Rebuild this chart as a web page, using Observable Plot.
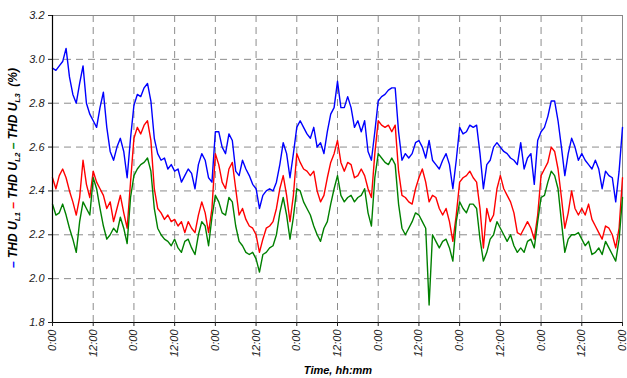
<!DOCTYPE html>
<html><head><meta charset="utf-8">
<script src="https://cdn.jsdelivr.net/npm/d3@7"></script>
<script src="https://cdn.jsdelivr.net/npm/@observablehq/plot@0.6"></script>
<style>
body{margin:0;background:#fff;}
svg{font-family:"Liberation Sans",Arial,sans-serif;}
</style></head>
<body><div id="chart"></div>
<script>
// hourly readings, 7 days (0..168 h)
const hours = d3.range(0, 169);
const thdL3Blue = [
2.96,2.95,2.97,2.99,3.05,2.92,2.84,2.80,2.89,2.97,2.80,2.75,2.72,2.69,2.78,2.85,2.69,2.58,2.54,2.60,2.64,2.58,2.46,2.64,
2.79,2.84,2.83,2.87,2.89,2.81,2.64,2.57,2.54,2.55,2.50,2.52,2.49,2.50,2.44,2.47,2.50,2.48,2.41,2.52,2.57,2.54,2.46,2.44,
2.67,2.67,2.60,2.57,2.66,2.63,2.49,2.47,2.54,2.50,2.47,2.43,2.41,2.32,2.38,2.40,2.41,2.40,2.44,2.52,2.62,2.57,2.46,2.57,
2.69,2.72,2.69,2.66,2.64,2.69,2.60,2.62,2.57,2.67,2.75,2.78,2.90,2.78,2.78,2.83,2.78,2.69,2.72,2.67,2.72,2.58,2.54,2.67,
2.81,2.83,2.84,2.86,2.87,2.87,2.67,2.54,2.57,2.55,2.57,2.62,2.63,2.60,2.55,2.63,2.54,2.52,2.50,2.54,2.57,2.52,2.41,2.54,
2.69,2.66,2.67,2.70,2.69,2.70,2.57,2.41,2.52,2.54,2.60,2.62,2.60,2.58,2.57,2.55,2.54,2.52,2.62,2.50,2.55,2.57,2.43,2.63,
2.67,2.69,2.74,2.81,2.81,2.72,2.60,2.47,2.57,2.64,2.60,2.54,2.57,2.54,2.52,2.50,2.54,2.50,2.41,2.49,2.47,2.46,2.35,2.49,
2.69];
const thdL1Red = [
2.46,2.41,2.47,2.50,2.46,2.40,2.35,2.29,2.37,2.54,2.43,2.37,2.49,2.44,2.41,2.38,2.32,2.35,2.26,2.32,2.38,2.30,2.23,2.44,
2.64,2.69,2.66,2.70,2.72,2.63,2.41,2.32,2.30,2.27,2.29,2.26,2.27,2.24,2.26,2.21,2.26,2.23,2.21,2.29,2.35,2.30,2.21,2.32,
2.57,2.52,2.44,2.41,2.50,2.53,2.41,2.29,2.32,2.27,2.24,2.23,2.20,2.12,2.18,2.23,2.24,2.26,2.32,2.41,2.47,2.38,2.26,2.38,
2.57,2.53,2.50,2.49,2.47,2.49,2.40,2.35,2.38,2.46,2.53,2.57,2.63,2.53,2.49,2.53,2.52,2.46,2.47,2.50,2.47,2.41,2.37,2.57,
2.72,2.70,2.69,2.70,2.67,2.70,2.49,2.38,2.37,2.35,2.34,2.41,2.46,2.50,2.44,2.35,2.38,2.37,2.32,2.29,2.32,2.26,2.17,2.29,
2.44,2.46,2.47,2.49,2.46,2.44,2.32,2.14,2.32,2.26,2.29,2.41,2.47,2.41,2.38,2.35,2.30,2.21,2.20,2.23,2.26,2.23,2.18,2.29,
2.47,2.50,2.53,2.60,2.58,2.50,2.37,2.23,2.30,2.40,2.32,2.29,2.32,2.29,2.34,2.27,2.24,2.21,2.18,2.24,2.23,2.20,2.14,2.23,
2.46];
const thdL2Green = [
2.34,2.29,2.30,2.34,2.29,2.23,2.18,2.12,2.26,2.35,2.32,2.29,2.46,2.41,2.32,2.24,2.18,2.20,2.23,2.21,2.28,2.23,2.16,2.37,
2.47,2.50,2.52,2.53,2.55,2.49,2.32,2.23,2.20,2.18,2.17,2.15,2.18,2.14,2.12,2.17,2.18,2.14,2.11,2.20,2.26,2.24,2.15,2.28,
2.38,2.35,2.30,2.29,2.37,2.35,2.24,2.17,2.15,2.12,2.11,2.12,2.09,2.03,2.11,2.12,2.14,2.15,2.20,2.30,2.37,2.29,2.18,2.28,
2.41,2.40,2.35,2.32,2.29,2.24,2.20,2.17,2.23,2.26,2.34,2.41,2.47,2.38,2.35,2.37,2.38,2.35,2.37,2.38,2.41,2.30,2.24,2.46,
2.57,2.55,2.53,2.52,2.55,2.52,2.34,2.23,2.20,2.23,2.26,2.30,2.29,2.26,2.23,1.88,2.20,2.17,2.14,2.17,2.18,2.14,2.08,2.26,
2.35,2.32,2.30,2.34,2.34,2.32,2.18,2.08,2.12,2.18,2.20,2.26,2.23,2.20,2.17,2.20,2.15,2.12,2.14,2.12,2.17,2.18,2.14,2.26,
2.37,2.38,2.44,2.49,2.47,2.41,2.26,2.12,2.18,2.20,2.20,2.21,2.18,2.15,2.17,2.11,2.12,2.14,2.11,2.17,2.14,2.11,2.08,2.18,
2.37];
const xTicks = d3.range(0, 169, 12);
const yTicks = [1.8, 2.0, 2.2, 2.4, 2.6, 2.8, 3.0, 3.2];
const series = [
  {name: "L3", values: thdL3Blue, color: "#0000ff"},
  {name: "L1", values: thdL1Red, color: "#ff0000"},
  {name: "L2", values: thdL2Green, color: "#008000"}
];
const rows = series.flatMap(s => hours.map((h, i) => ({h, v: s.values[i], s: s.name})));

const plot = Plot.plot({
  width: 627, height: 378,
  marginLeft: 52, marginTop: 15, marginRight: 5, marginBottom: 56,
  style: {fontSize: "11px", fontStyle: "italic", color: "#222", background: "#fff"},
  x: {domain: [0, 168], ticks: xTicks, tickFormat: h => (h % 24 === 0 ? "0:00" : "12:00"),
      tickRotate: -90, tickSize: 4, tickPadding: 3, label: null},
  y: {domain: [1.8, 3.2], ticks: yTicks, tickFormat: d => d.toFixed(1), tickSize: 4, tickPadding: 4, label: null},
  color: {domain: series.map(s => s.name), range: series.map(s => s.color)},
  marks: [
    Plot.gridY(yTicks.filter(d => d > 1.8 && d < 3.2), {stroke: "#8c8c8c", strokeOpacity: 1, strokeDasharray: "7,5"}),
    Plot.gridX(xTicks.filter(d => d > 0 && d < 168), {stroke: "#8c8c8c", strokeOpacity: 1, strokeDasharray: "7,5"}),
    Plot.frame({stroke: "#888"}),
    Plot.line(rows, {x: "h", y: "v", z: "s", stroke: "s", strokeWidth: 1.4, curve: "linear"}),
    Plot.ruleX([0], {stroke: "#000", strokeWidth: 1.2}),
    Plot.ruleY([1.8], {stroke: "#000", strokeWidth: 1.2}),
    Plot.axisY({ticks: yTicks, tickFormat: d => d.toFixed(1), tickSize: 4, tickPadding: 4, label: null, fill: "#222"}),
    Plot.axisX({ticks: xTicks, tickFormat: h => (h % 24 === 0 ? "0:00" : "12:00"), tickRotate: -90, tickSize: 4, tickPadding: 3, label: null, fill: "#222"})
  ]
});
document.getElementById("chart").appendChild(plot);

const svg = d3.select(plot);
svg.append("text")
  .attr("x", 338).attr("y", 374)
  .attr("text-anchor", "middle")
  .style("font-weight", "bold").style("font-style", "italic").style("font-size", "11px")
  .attr("fill", "#000")
  .text("Time, hh:mm");

const ylab = svg.append("text")
  .attr("transform", "translate(17,168) rotate(-90)")
  .attr("text-anchor", "middle")
  .style("font-weight", "bold").style("font-style", "italic").style("font-size", "12px")
  .attr("fill", "#000");
const parts = [
  {t: "– ", c: "#0000ff"}, {t: "THD U", c: "#000"}, {t: "L1", c: "#000", sub: true},
  {t: " – ", c: "#ff0000"}, {t: "THD U", c: "#000"}, {t: "L2", c: "#000", sub: true},
  {t: " – ", c: "#008000"}, {t: "THD U", c: "#000"}, {t: "L3", c: "#000", sub: true},
  {t: "  (%)", c: "#000"}
];
parts.forEach((p, i) => {
  const ts = ylab.append("tspan").attr("fill", p.c).text(p.t);
  if (p.sub) ts.attr("dy", 3).style("font-size", "8px");
  else if (i > 0 && parts[i - 1].sub) ts.attr("dy", -3);
});
</script></body></html>
